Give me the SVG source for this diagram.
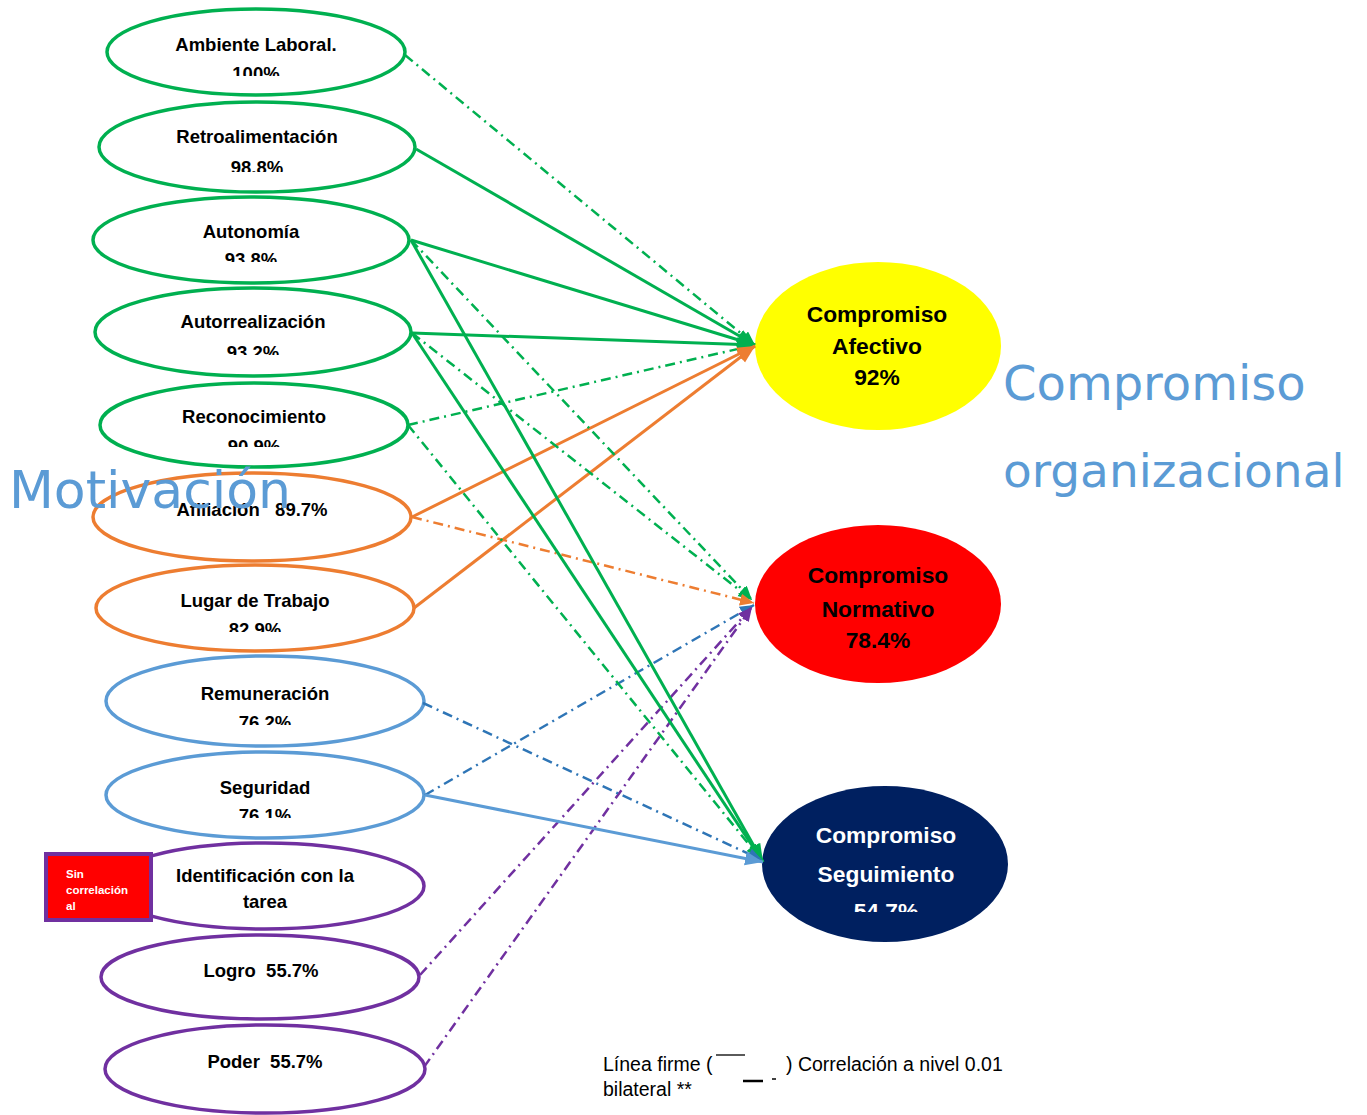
<svg xmlns="http://www.w3.org/2000/svg" width="1367" height="1115" viewBox="0 0 1367 1115">
<style>
.n{fill:#fff;stroke-width:3.5}
.g{stroke:#00B050}.o{stroke:#ED7D31}.b{stroke:#5B9BD5}.p{stroke:#7030A0}
.t{font-family:"Liberation Sans",Arial,sans-serif;font-weight:bold;font-size:18.5px;fill:#000;text-anchor:middle}
.rt{font-family:"Liberation Sans",Arial,sans-serif;font-weight:bold;font-size:22.8px;text-anchor:middle}
.big{font-family:"DejaVu Sans",Verdana,sans-serif;fill:#5B9BD5}
.c{fill:none}
.s{stroke-width:3}
.d{stroke-width:2.5;stroke-dasharray:10 5 2 5}
.lg{font-family:"Liberation Sans",Arial,sans-serif;font-size:19.5px;fill:#000}
</style>
<defs>
<marker id="ag" markerUnits="userSpaceOnUse" markerWidth="20" markerHeight="16" refX="18" refY="7" orient="auto"><path d="M0,0 L18,7 L0,14 z" fill="#00B050"/></marker>
<marker id="ao" markerUnits="userSpaceOnUse" markerWidth="20" markerHeight="16" refX="18" refY="7" orient="auto"><path d="M0,0 L18,7 L0,14 z" fill="#ED7D31"/></marker>
<marker id="ab" markerUnits="userSpaceOnUse" markerWidth="20" markerHeight="16" refX="18" refY="7" orient="auto"><path d="M0,0 L18,7 L0,14 z" fill="#5B9BD5"/></marker>
<marker id="dg" markerUnits="userSpaceOnUse" markerWidth="16" markerHeight="14" refX="14" refY="6" orient="auto"><path d="M0,0 L14,6 L0,12 z" fill="#00B050"/></marker>
<marker id="do" markerUnits="userSpaceOnUse" markerWidth="16" markerHeight="14" refX="14" refY="6" orient="auto"><path d="M0,0 L14,6 L0,12 z" fill="#ED7D31"/></marker>
<marker id="db" markerUnits="userSpaceOnUse" markerWidth="16" markerHeight="14" refX="14" refY="6" orient="auto"><path d="M0,0 L14,6 L0,12 z" fill="#2E75B6"/></marker>
<marker id="dp" markerUnits="userSpaceOnUse" markerWidth="16" markerHeight="14" refX="14" refY="6" orient="auto"><path d="M0,0 L14,6 L0,12 z" fill="#7030A0"/></marker>
<clipPath id="k1"><rect x="0" y="0" width="1367" height="76"/></clipPath>
<clipPath id="k2"><rect x="0" y="0" width="1367" height="172"/></clipPath>
<clipPath id="k3"><rect x="0" y="0" width="1367" height="262"/></clipPath>
<clipPath id="k4"><rect x="0" y="0" width="1367" height="355"/></clipPath>
<clipPath id="k5"><rect x="0" y="0" width="1367" height="447"/></clipPath>
<clipPath id="k7"><rect x="0" y="0" width="1367" height="632"/></clipPath>
<clipPath id="k8"><rect x="0" y="0" width="1367" height="725"/></clipPath>
<clipPath id="k9"><rect x="0" y="0" width="1367" height="818"/></clipPath>
<clipPath id="kS"><rect x="0" y="0" width="1367" height="912"/></clipPath>
</defs>

<g id="ambiente"><ellipse class="n g" cx="256" cy="52" rx="149" ry="43"/><text class="t" x="256" y="51">Ambiente Laboral.</text><text class="t" x="256" y="80" clip-path="url(#k1)">100%</text></g>
<g id="retro"><ellipse class="n g" cx="257" cy="147" rx="158" ry="45"/><text class="t" x="257" y="143">Retroalimentación</text><text class="t" x="257" y="174" clip-path="url(#k2)">98.8%</text></g>
<g id="autonomia"><ellipse class="n g" cx="251" cy="240" rx="158" ry="43"/><text class="t" x="251" y="238">Autonomía</text><text class="t" x="251" y="266" clip-path="url(#k3)">93.8%</text></g>
<g id="autorreal"><ellipse class="n g" cx="253" cy="332" rx="158" ry="44"/><text class="t" x="253" y="328">Autorrealización</text><text class="t" x="253" y="359" clip-path="url(#k4)">93.2%</text></g>
<g id="reconoc"><ellipse class="n g" cx="254" cy="425" rx="154" ry="42"/><text class="t" x="254" y="423">Reconocimiento</text><text class="t" x="254" y="453" clip-path="url(#k5)">90.9%</text></g>
<g id="afiliacion"><ellipse class="n o" cx="252" cy="517" rx="159" ry="44"/><text class="t" x="252" y="516" xml:space="preserve">Afiliación   89.7%</text></g>
<g id="lugar"><ellipse class="n o" cx="255" cy="608" rx="159" ry="43"/><text class="t" x="255" y="607">Lugar de Trabajo</text><text class="t" x="255" y="636" clip-path="url(#k7)">82.9%</text></g>
<g id="remun"><ellipse class="n b" cx="265" cy="701" rx="159" ry="45"/><text class="t" x="265" y="700">Remuneración</text><text class="t" x="265" y="729" clip-path="url(#k8)">76.2%</text></g>
<g id="seguridad"><ellipse class="n b" cx="265" cy="795" rx="159" ry="43"/><text class="t" x="265" y="794">Seguridad</text><text class="t" x="265" y="822" clip-path="url(#k9)">76.1%</text></g>
<g id="identif"><ellipse class="n p" cx="265" cy="886" rx="159" ry="43"/><text class="t" x="265" y="882">Identificación con la</text><text class="t" x="265" y="908">tarea</text></g>
<g id="sincorr"><rect x="46" y="854" width="105" height="66" fill="#FF0000" stroke="#7030A0" stroke-width="4"/><text font-family="Liberation Sans,Arial,sans-serif" font-weight="bold" font-size="11.5" fill="#fff"><tspan x="66" y="878">Sin</tspan><tspan x="66" y="894">correlación</tspan><tspan x="66" y="910">al</tspan></text></g>
<g id="logro"><ellipse class="n p" cx="260" cy="977" rx="159" ry="42"/><text class="t" x="261" y="977" xml:space="preserve">Logro  55.7%</text></g>
<g id="poder"><ellipse class="n p" cx="265" cy="1069" rx="160" ry="44"/><text class="t" x="265" y="1068" xml:space="preserve">Poder  55.7%</text></g>

<g id="afectivo"><ellipse cx="878" cy="346" rx="123" ry="84" fill="#FFFF00"/><text class="rt" fill="#000"><tspan x="877" y="322">Compromiso</tspan><tspan x="877" y="354">Afectivo</tspan><tspan x="877" y="385">92%</tspan></text></g>
<g id="normativo"><ellipse cx="878" cy="604" rx="123" ry="79" fill="#FF0000"/><text class="rt" fill="#000"><tspan x="878" y="583">Compromiso</tspan><tspan x="878" y="617">Normativo</tspan><tspan x="878" y="648">78.4%</tspan></text></g>
<g id="seguimiento"><ellipse cx="885" cy="864" rx="123" ry="78" fill="#002060"/><text class="rt" fill="#fff"><tspan x="886" y="843">Compromiso</tspan><tspan x="886" y="882">Seguimiento</tspan></text><text class="rt" fill="#fff" x="886" y="919" clip-path="url(#kS)">54.7%</text></g>

<g id="connectors">
<line class="c g d" x1="405" y1="55" x2="755" y2="345" marker-end="url(#dg)"/>
<line class="c g s" x1="416" y1="149" x2="755" y2="345" marker-end="url(#ag)"/>
<line class="c g s" x1="411" y1="240" x2="755" y2="345" marker-end="url(#ag)"/>
<line class="c g s" x1="412" y1="333" x2="755" y2="345" marker-end="url(#ag)"/>
<line class="c g d" x1="408" y1="425" x2="755" y2="345" marker-end="url(#dg)"/>
<line class="c o s" x1="412" y1="517" x2="755" y2="346" marker-end="url(#ao)"/>
<line class="c o s" x1="414" y1="608" x2="755" y2="346" marker-end="url(#ao)"/>
<line class="c g d" x1="411" y1="240" x2="752" y2="600" marker-end="url(#dg)"/>
<line class="c g d" x1="412" y1="333" x2="752" y2="600" marker-end="url(#dg)"/>
<line class="c o d" x1="412" y1="517" x2="754" y2="603" marker-end="url(#do)"/>
<line class="c b d" style="stroke:#2E75B6" x1="425" y1="795" x2="754" y2="605" marker-end="url(#db)"/>
<line class="c p d" x1="420" y1="975" x2="752" y2="607" marker-end="url(#dp)"/>
<line class="c p d" x1="424" y1="1067" x2="752" y2="607" marker-end="url(#dp)"/>
<line class="c g s" x1="411" y1="240" x2="763" y2="862" marker-end="url(#ag)"/>
<line class="c g s" x1="412" y1="333" x2="763" y2="862" marker-end="url(#ag)"/>
<line class="c g d" x1="408" y1="425" x2="760" y2="858" marker-end="url(#dg)"/>
<line class="c b d" style="stroke:#2E75B6" x1="423" y1="703" x2="762" y2="860" marker-end="url(#db)"/>
<line class="c b s" x1="425" y1="795" x2="763" y2="862" marker-end="url(#ab)"/>
</g>

<text class="big" x="9" y="508" font-size="52">Motivación</text>
<text class="big" x="1003" y="400" font-size="48">Compromiso</text>
<text class="big" x="1003" y="487" font-size="47">organizacional</text>

<g id="legend">
<text class="lg" x="603" y="1071">Línea firme (</text>
<line x1="716" y1="1055" x2="745" y2="1055" stroke="#000" stroke-width="1.3"/>
<text class="lg" x="786" y="1071">) Correlación a nivel 0.01</text>
<text class="lg" x="603" y="1096">bilateral **</text>
<line x1="743" y1="1081" x2="763" y2="1081" stroke="#000" stroke-width="2.5"/>
<line x1="772" y1="1079" x2="776" y2="1079" stroke="#000" stroke-width="1.5"/>
</g>
</svg>
